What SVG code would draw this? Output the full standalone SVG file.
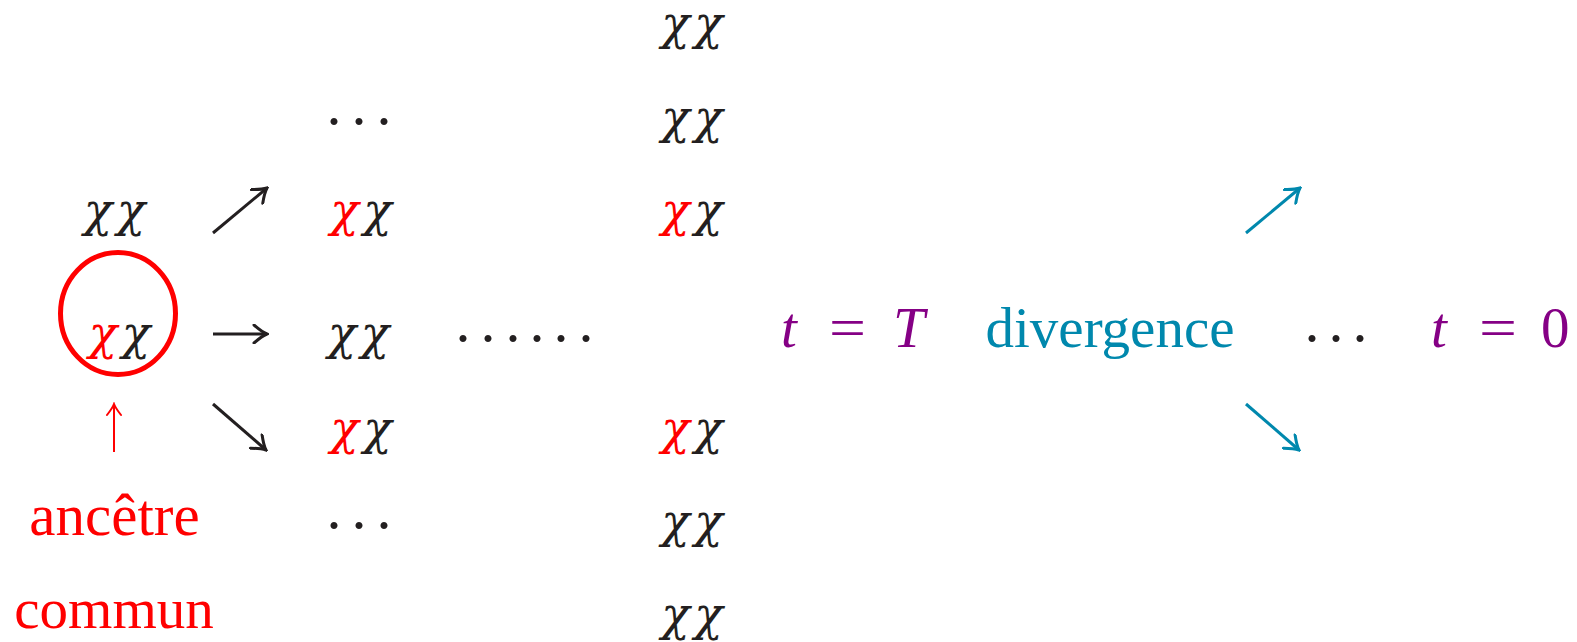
<svg xmlns="http://www.w3.org/2000/svg" width="1577" height="642" viewBox="0 0 1577 642">
<style>
.chi{font-family:"DejaVu Serif",serif;font-style:italic;font-size:47px;text-anchor:middle}
.k{fill:#231f20}
.r{fill:#ff0000}
.rm{font-family:"Liberation Serif",serif;font-size:57px}
.it{font-family:"Liberation Serif",serif;font-style:italic;font-size:57px}
.pu{fill:#850085}
.tl{fill:#0088ad}
.dot{font-family:"Liberation Serif",serif;font-size:60px;text-anchor:middle;fill:#231f20}
.ar{fill:none;stroke-width:3}
</style>
<defs>
<marker id="hk" viewBox="-15 -10 17 20" refX="0" refY="0" markerWidth="17" markerHeight="20" markerUnits="userSpaceOnUse" orient="auto">
<path d="M-13,-9 Q-5,-2 0,0 Q-5,2 -13,9" fill="none" stroke="#231f20" stroke-width="3" stroke-linecap="round"/>
</marker>
<marker id="ht" viewBox="-15 -10 17 20" refX="0" refY="0" markerWidth="17" markerHeight="20" markerUnits="userSpaceOnUse" orient="auto">
<path d="M-13,-9 Q-5,-2 0,0 Q-5,2 -13,9" fill="none" stroke="#0088ad" stroke-width="3" stroke-linecap="round"/>
</marker>
<marker id="hr" viewBox="-14 -9 16 18" refX="0" refY="0" markerWidth="16" markerHeight="18" markerUnits="userSpaceOnUse" orient="auto">
<path d="M-11,-7 Q-4,-1.5 0,0 Q-4,1.5 -11,7" fill="none" stroke="#ff0000" stroke-width="2" stroke-linecap="round"/>
</marker>
</defs>
<rect width="1577" height="642" fill="#ffffff"/>

<g id="col1-top"><text class="chi k" y="226"><tspan x="98">χ</tspan><tspan x="131">χ</tspan></text></g>
<g id="ancestor">
<ellipse cx="118" cy="313.5" rx="57.5" ry="61" fill="none" stroke="#ff0000" stroke-width="5"/>
<text class="chi" y="349"><tspan x="103" class="r">χ</tspan><tspan x="136" class="k">χ</tspan></text>
</g>
<g id="label-ancetre"><text class="rm r" x="114.5" y="535" text-anchor="middle" style="font-size:59px">ancêtre</text></g>
<g id="label-commun"><text class="rm r" x="114" y="628" text-anchor="middle">commun</text></g>

<g id="col2-dots-top"><text class="dot" y="141"><tspan x="334">·</tspan><tspan x="359">·</tspan><tspan x="384">·</tspan></text></g>
<g id="col2-row3"><text class="chi" y="226"><tspan x="344.5" class="r">χ</tspan><tspan x="377.5" class="k">χ</tspan></text></g>
<g id="col2-mid"><text class="chi k" y="349"><tspan x="342">χ</tspan><tspan x="375">χ</tspan></text></g>
<g id="col2-row5"><text class="chi" y="444"><tspan x="344.5" class="r">χ</tspan><tspan x="377.5" class="k">χ</tspan></text></g>
<g id="col2-dots-bottom"><text class="dot" y="545"><tspan x="334">·</tspan><tspan x="359">·</tspan><tspan x="384">·</tspan></text></g>

<g id="mid-dots"><text class="dot" y="358"><tspan x="463">·</tspan><tspan x="488">·</tspan><tspan x="513">·</tspan><tspan x="537">·</tspan><tspan x="561">·</tspan><tspan x="586">·</tspan></text></g>

<g id="col4-r1"><text class="chi k" y="39"><tspan x="675.5">χ</tspan><tspan x="708.5">χ</tspan></text></g>
<g id="col4-r2"><text class="chi k" y="133"><tspan x="675.5">χ</tspan><tspan x="708.5">χ</tspan></text></g>
<g id="col4-r3"><text class="chi" y="226"><tspan x="675.5" class="r">χ</tspan><tspan x="708.5" class="k">χ</tspan></text></g>
<g id="col4-r5"><text class="chi" y="444"><tspan x="675.5" class="r">χ</tspan><tspan x="708.5" class="k">χ</tspan></text></g>
<g id="col4-r6"><text class="chi k" y="537"><tspan x="675.5">χ</tspan><tspan x="708.5">χ</tspan></text></g>
<g id="col4-r7"><text class="chi k" y="630"><tspan x="675.5">χ</tspan><tspan x="708.5">χ</tspan></text></g>

<g id="t-eq-T"><text class="pu" y="347"><tspan class="it" x="781">t</tspan><tspan class="rm" x="829" textLength="37" lengthAdjust="spacingAndGlyphs">=</tspan><tspan class="it" x="893">T</tspan></text></g>
<g id="divergence"><text class="rm tl" x="1110" y="347" text-anchor="middle">divergence</text></g>
<g id="right-dots"><text class="dot" y="358"><tspan x="1312">·</tspan><tspan x="1336">·</tspan><tspan x="1360">·</tspan></text></g>
<g id="t-eq-0"><text class="pu" y="347"><tspan class="it" x="1431">t</tspan><tspan class="rm" x="1479" textLength="38" lengthAdjust="spacingAndGlyphs">=</tspan><tspan class="rm" x="1541">0</tspan></text></g>

<g id="connectors">
<line class="ar" x1="213" y1="233" x2="267" y2="188" stroke="#231f20" marker-end="url(#hk)"/>
<line class="ar" x1="213" y1="334" x2="267" y2="334" stroke="#231f20" marker-end="url(#hk)"/>
<line class="ar" x1="213" y1="404" x2="266" y2="450" stroke="#231f20" marker-end="url(#hk)"/>
<line class="ar" x1="1246" y1="233" x2="1300" y2="188" stroke="#0088ad" marker-end="url(#ht)"/>
<line class="ar" x1="1246" y1="404" x2="1299" y2="450" stroke="#0088ad" marker-end="url(#ht)"/>
<line x1="114" y1="452" x2="114" y2="404" stroke="#ff0000" stroke-width="2" marker-end="url(#hr)"/>
</g>
</svg>
